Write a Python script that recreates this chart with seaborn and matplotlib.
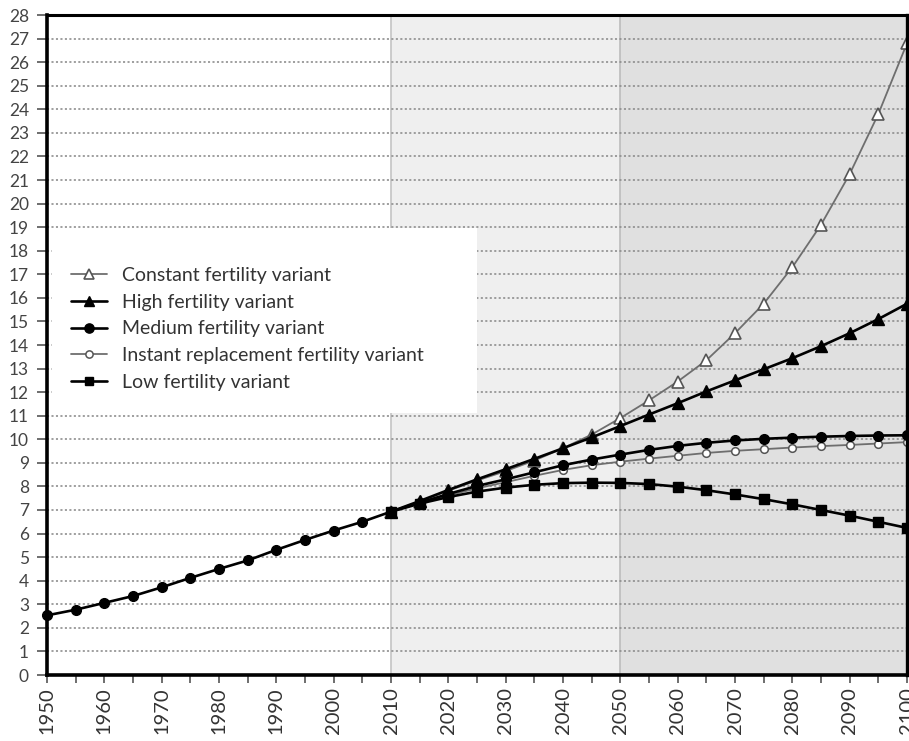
import numpy as np
import pandas as pd
import matplotlib
matplotlib.use("Agg")
import matplotlib.pyplot as plt
import seaborn as sns
from matplotlib.patches import Rectangle
from matplotlib.lines import Line2D
from matplotlib.ticker import MultipleLocator

# ---------------- data ----------------
years_hist = [1950, 1955, 1960, 1965, 1970, 1975, 1980, 1985, 1990, 1995, 2000, 2005, 2010]
medium_hist = [2.53, 2.77, 3.06, 3.35, 3.72, 4.12, 4.50, 4.86, 5.31, 5.73, 6.13, 6.50, 6.93]

years_proj = [2010, 2015, 2020, 2025, 2030, 2035, 2040, 2045, 2050, 2055,
              2060, 2065, 2070, 2075, 2080, 2085, 2090, 2095, 2100]
constant = [6.93, 7.36, 7.82, 8.25, 8.65, 9.10, 9.62, 10.20, 10.90, 11.65,
            12.45, 13.35, 14.50, 15.75, 17.30, 19.10, 21.25, 23.80, 26.80]
high = [6.93, 7.38, 7.85, 8.30, 8.73, 9.17, 9.62, 10.08, 10.56, 11.05,
        11.53, 12.03, 12.50, 12.97, 13.44, 13.95, 14.50, 15.10, 15.75]
medium = [6.93, 7.31, 7.68, 8.02, 8.30, 8.60, 8.90, 9.14, 9.35, 9.55,
          9.72, 9.85, 9.95, 10.02, 10.07, 10.11, 10.14, 10.16, 10.17]
instant = [6.93, 7.30, 7.62, 7.92, 8.18, 8.45, 8.70, 8.90, 9.05, 9.18,
           9.30, 9.42, 9.51, 9.58, 9.65, 9.71, 9.76, 9.82, 9.88]
low = [6.93, 7.27, 7.55, 7.78, 7.95, 8.07, 8.14, 8.16, 8.15, 8.10,
       7.99, 7.84, 7.66, 7.46, 7.24, 7.00, 6.76, 6.50, 6.24]

labels = ["Constant fertility variant", "High fertility variant",
          "Medium fertility variant", "Instant replacement fertility variant",
          "Low fertility variant"]
y_ticks = list(range(0, 29))
x_ticks = list(range(1950, 2101, 10))

# ---------------- style ----------------
sns.set_style("white")
plt.rcParams["font.family"] = ["Lato", "DejaVu Sans"]

fig = plt.figure(figsize=(9.09, 7.41), dpi=100)
ax = fig.add_axes([47 / 909, 1 - 675 / 741, 860 / 909, 660 / 741])

# background periods
ax.axvspan(2010, 2050, color="#efefef", zorder=0, lw=0)
ax.axvspan(2050, 2100, color="#e0e0e0", zorder=0, lw=0)
ax.axvline(2010, color="#c4c4c4", lw=1.2, zorder=0.5)
ax.axvline(2050, color="#bcbcbc", lw=1.2, zorder=0.5)

# dotted grid
for yv in y_ticks[1:-1]:
    ax.axhline(yv, color="#8a8a8a", lw=1.15, linestyle=(0, (1.3, 1.5)), zorder=1)

# white legend box
ax.add_patch(Rectangle(((52 - 47) / 860, (675 - 413) / 660), (477 - 52) / 860, (413 - 228) / 660,
                       transform=ax.transAxes, facecolor="white", edgecolor="none", zorder=1.5))

styles = {
    "const": dict(color="#6e6e6e", lw=1.3, marker="^", ms=8, mfc="white", mec="#555555", mew=1.2),
    "inst": dict(color="#6e6e6e", lw=1.3, marker="o", ms=5.5, mfc="white", mec="#555555", mew=1.1),
    "low": dict(color="black", lw=1.9, marker="s", ms=6.5, mfc="black", mec="black", mew=1.0),
    "med": dict(color="black", lw=1.9, marker="o", ms=7, mfc="black", mec="black", mew=1.0),
    "high": dict(color="black", lw=1.9, marker="^", ms=8, mfc="black", mec="black", mew=1.0),
}

def draw(x, y, st, z):
    sns.lineplot(x=x, y=y, ax=ax, color=st["color"], linewidth=st["lw"], marker=st["marker"],
                 markersize=st["ms"], markerfacecolor=st["mfc"], markeredgecolor=st["mec"],
                 markeredgewidth=st["mew"], zorder=z, legend=False, clip_on=False)

draw(years_proj, constant, styles["const"], 3)
draw(years_proj, instant, styles["inst"], 3.2)
draw(years_proj, low, styles["low"], 3.4)
draw(years_hist + years_proj[1:], medium_hist + medium[1:], styles["med"], 3.6)
draw(years_proj, high, styles["high"], 3.8)

# legend
order = ["const", "high", "med", "inst", "low"]
handles = []
for k in order:
    st = styles[k]
    handles.append(Line2D([], [], color=st["color"], lw=st["lw"], marker=st["marker"],
                          markersize=st["ms"] * 0.95, markerfacecolor=st["mfc"],
                          markeredgecolor=st["mec"], markeredgewidth=st["mew"]))
leg = ax.legend(handles, labels, loc="upper left",
                bbox_to_anchor=((71 - 47) / 860, (675 - 267) / 660),
                frameon=False, fontsize=14, handlelength=1.85, handletextpad=0.75,
                labelspacing=0.5, borderaxespad=0, borderpad=0)
for t in leg.get_texts():
    t.set_color("#333333")
leg.set_zorder(5)

# axes
ax.set_xlim(1950, 2100)
ax.set_ylim(0, 28)
ax.set_yticks(y_ticks)
ax.set_yticklabels([str(v) for v in y_ticks], fontsize=12.5, color="#444444")
ax.set_xticks(x_ticks)
ax.set_xticklabels([str(v) for v in x_ticks], rotation=90, fontsize=14.5, color="#333333")
ax.xaxis.set_minor_locator(MultipleLocator(5))
ax.tick_params(axis="y", which="major", left=True, length=7, width=1.2, color="#555555", pad=6)
ax.tick_params(axis="x", which="both", bottom=True, length=6, width=1.2, color="#555555", pad=3)
ax.set_xlabel("")
ax.set_ylabel("")

for side, lw in [("left", 2.6), ("bottom", 2.6), ("top", 2.2), ("right", 2.4)]:
    ax.spines[side].set_visible(True)
    ax.spines[side].set_color("black")
    ax.spines[side].set_linewidth(lw)
    ax.spines[side].set_zorder(6)

fig.savefig("out.png", dpi=100)
